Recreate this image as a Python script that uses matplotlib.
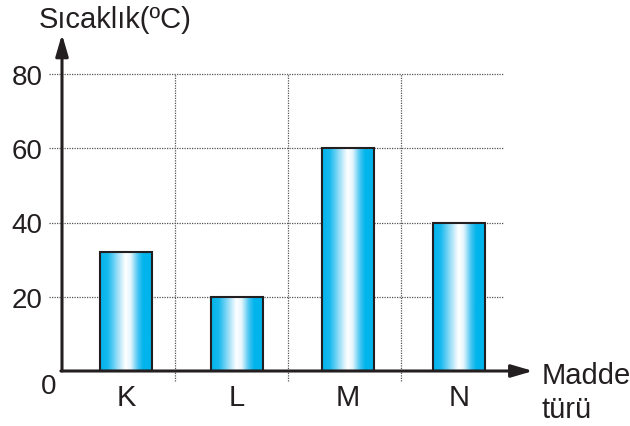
import matplotlib
matplotlib.use("Agg")
import matplotlib.pyplot as plt
from matplotlib.colors import LinearSegmentedColormap
import numpy as np

plt.rcParams['font.family'] = ['Liberation Sans', 'DejaVu Sans']

# data
maddeler = ['K', 'L', 'M', 'N']
sicaklik = [32, 20, 60, 40]
y_ticks = [20, 40, 60, 80]

INK = '#231f20'
plt.rcParams['text.color'] = INK
plt.rcParams['xtick.color'] = INK
plt.rcParams['ytick.color'] = INK

fig = plt.figure(figsize=(6.3, 4.27), dpi=100)
ax = fig.add_axes([62 / 630, 55 / 427, 441 / 630, 297 / 427])

# blue -> white -> blue shading of the bars
cmap = LinearSegmentedColormap.from_list('tup', [
    (0.0, '#00b4ec'), (0.15, '#19baee'), (0.35, '#a8e2f8'), (0.48, '#ffffff'),
    (0.58, '#e6f6fd'), (0.72, '#45c4f1'), (0.82, '#00b4ec'), (1.0, '#00b4ec')])
grad = np.linspace(0, 1, 256).reshape(1, -1)

x = np.arange(len(maddeler))
w = 0.47
for xi, v in zip(x, sicaklik):
    ax.imshow(grad, extent=[xi - w / 2, xi + w / 2, 0, v], aspect='auto',
              cmap=cmap, zorder=3, interpolation='bicubic')
ax.bar(x, sicaklik, width=w, fill=False, edgecolor=INK, linewidth=1.5, zorder=4)

xmin, xmax = -0.577, 3.396
ax.set_xlim(xmin, xmax)
ax.set_ylim(0, 80)

# dotted grid, sticking out a little past the axes
dot = dict(color='#555555', linewidth=0.9, linestyle=(0, (1, 1)), zorder=1, clip_on=False)
ax.hlines(y_ticks, -0.694, xmax, **dot)
ax.vlines([0.44, 1.46, 2.48], -2.7, 80, **dot)

for s in ax.spines.values():
    s.set_visible(False)

ax.set_xticks(x)
ax.set_xticklabels(maddeler, fontsize=21)
ax.set_yticks(y_ticks)
ax.set_yticklabels([str(t) for t in y_ticks], fontsize=20)
ax.tick_params(length=0)
ax.tick_params(axis='y', pad=14)
ax.tick_params(axis='x', pad=9)
ax.text(xmin - 0.05, -4.0, '0', fontsize=20, ha='right', va='center')

# axes with arrow heads
arr = dict(arrowstyle='-|>,head_length=1.3,head_width=0.38', lw=2.2, color=INK,
           shrinkA=0, shrinkB=0, mutation_scale=10)
ax.annotate('', xy=(xmin, 90.7), xytext=(xmin, 0), arrowprops=arr, annotation_clip=False)
ax.annotate('', xy=(3.667, 0), xytext=(xmin - 0.01, 0), arrowprops=arr, annotation_clip=False)

fig.text(39 / 630, 1 - 20 / 427, 'Sıcaklık(ºC)', fontsize=21, ha='left', va='center')
fig.text(542 / 630, 1 - 376 / 427, 'Madde', fontsize=21, ha='left', va='center')
fig.text(542 / 630, 1 - 410 / 427, 'türü', fontsize=21, ha='left', va='center')

fig.savefig('out.png', dpi=100)
